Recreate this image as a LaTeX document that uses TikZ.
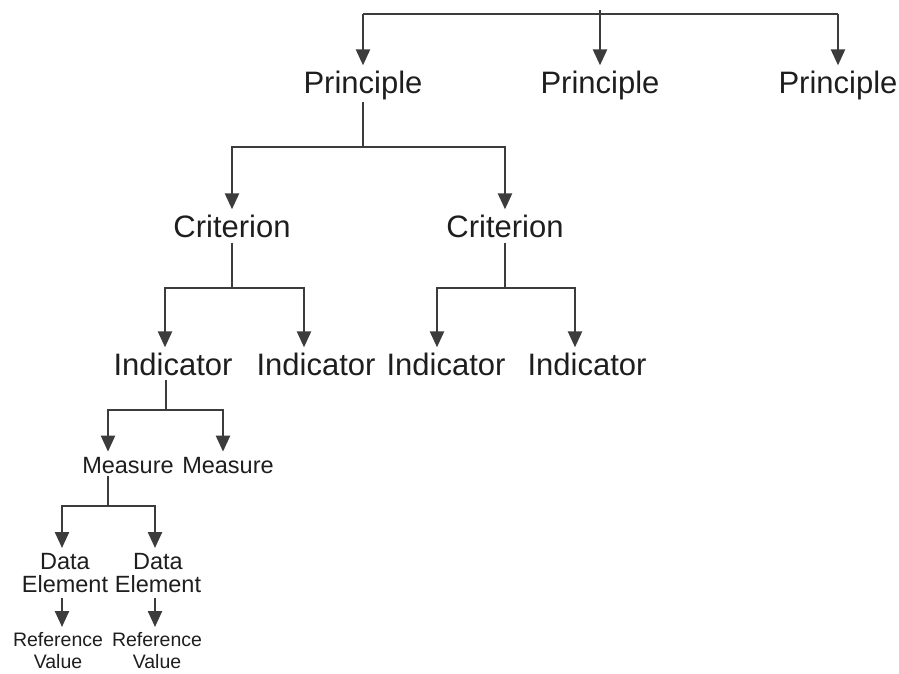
\documentclass[tikz,border=0pt]{standalone}
\usepackage{fontspec}
\setmainfont{Liberation Sans}
\usetikzlibrary{arrows.meta}
\definecolor{linegray}{HTML}{3C3C3C}
\definecolor{textgray}{HTML}{1E1E1E}
\begin{document}
\begin{tikzpicture}[x=1pt,y=-1pt,
  link/.style={draw=linegray,line width=2.4pt},
  arr/.style={link,-{Triangle[length=16pt,width=14pt]},shorten >=5pt},
  lvlbig/.style={inner sep=0pt,text=textgray,font=\fontsize{31}{36}\selectfont,anchor=base},
  lvlmid/.style={inner sep=0pt,text=textgray,font=\fontsize{23.5}{23}\selectfont,align=center},
  lvlsmall/.style={inner sep=0pt,text=textgray,font=\fontsize{19.5}{22}\selectfont,align=center}]
\useasboundingbox (0,0) rectangle (899,673);

% principles
\node[lvlbig] (p1) at (363,93) {Principle};
\node[lvlbig] (p2) at (600,93) {Principle};
\node[lvlbig] (p3) at (838,93) {Principle};
% criteria
\node[lvlbig] (c1) at (232,237) {Criterion};
\node[lvlbig] (c2) at (505,237) {Criterion};
% indicators
\node[lvlbig] (i1) at (173,375) {Indicator};
\node[lvlbig] (i2) at (316,375) {Indicator};
\node[lvlbig] (i3) at (446,375) {Indicator};
\node[lvlbig] (i4) at (587,375) {Indicator};
% measures
\node[lvlmid,anchor=base] (m1) at (128,473) {Measure};
\node[lvlmid,anchor=base] (m2) at (228,473) {Measure};
% data elements
\node[lvlmid,anchor=north] (d1) at (65,553) {Data\\Element};
\node[lvlmid,anchor=north] (d2) at (158,553) {Data\\Element};
% reference values
\node[lvlsmall,anchor=north] (r1) at (58,632) {Reference\\Value};
\node[lvlsmall,anchor=north] (r2) at (157,632) {Reference\\Value};

% junction points
\coordinate (root) at (600,10);
\coordinate (jr) at (600,14);
\coordinate (jp) at (363,147);
\coordinate (jc1) at (232,288);
\coordinate (jc2) at (505,288);
\coordinate (ji) at (166,410);
\coordinate (jm) at (108,506);

% top level
\draw[link] (jr -| p1.north) -- (jr -| p3.north);
\draw[arr] (root) -- (p2.north);
\draw[arr] (jr -| p1.north) -- (p1.north);
\draw[arr] (jr -| p3.north) -- (p3.north);

% principle -> criteria
\draw[link,shorten <=2pt] (p1.south) -- (jp);
\draw[arr] (jp) -| (c1.north);
\draw[arr] (jp) -| (c2.north);

% criteria -> indicators
\draw[link,shorten <=5pt] (c1.south) -- (jc1);
\draw[arr] (jc1) -| ([xshift=-8pt]i1.north);
\draw[arr] (jc1) -| ([xshift=-12pt]i2.north);
\draw[link,shorten <=5pt] (c2.south) -- (jc2);
\draw[arr] (jc2) -| ([xshift=-9pt]i3.north);
\draw[arr] (jc2) -| ([xshift=-12pt]i4.north);

% indicator -> measures
\draw[link,shorten <=4pt] ([xshift=-7pt]i1.south) -- (ji);
\draw[arr] (ji) -| ([xshift=-20pt]m1.north);
\draw[arr] (ji) -| ([xshift=-5pt]m2.north);

% measure -> data elements
\draw[link,shorten <=3pt] ([xshift=-20pt]m1.south) -- (jm);
\draw[arr] (jm) -| ([xshift=-3pt]d1.north);
\draw[arr] (jm) -| ([xshift=-3pt]d2.north);

% data elements -> reference values
\draw[arr,shorten <=5pt] ([xshift=-3pt]d1.south) -- ([xshift=4pt]r1.north);
\draw[arr,shorten <=5pt] ([xshift=-3pt]d2.south) -- ([xshift=-2pt]r2.north);
\end{tikzpicture}
\end{document}
